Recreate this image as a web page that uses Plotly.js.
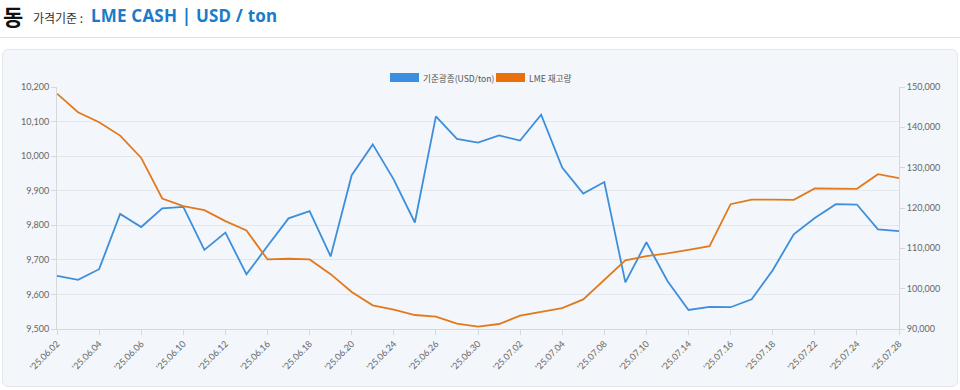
<!DOCTYPE html>
<html>
<head>
<meta charset="utf-8">
<script src="https://cdn.plot.ly/plotly-3.0.1.min.js"></script>
<style>
  html, body { margin: 0; padding: 0; background: #ffffff; width: 960px; height: 390px; overflow: hidden; }
  #hdr { position: absolute; left: 3px; top: 0px; height: 36px; white-space: nowrap; font-family: "Noto Sans CJK KR", "Noto Sans", sans-serif; }
  #hdr .big { position: absolute; left: 0px; top: -1px; font-size: 22px; font-weight: 700; color: #111; }
  #hdr .lab { position: absolute; left: 30px; top: 9px; font-size: 12px; color: #333; }
  #hdr .val { position: absolute; left: 88px; top: 4px; font-size: 17px; font-weight: 700; color: #1a7cc9; font-family: "Noto Sans", "Noto Sans CJK KR", sans-serif; letter-spacing: 0.2px; }
  #rule { position: absolute; left: 0; top: 37px; width: 960px; height: 1px; background: #e2e2e2; }
  #panel { position: absolute; left: 2px; top: 49px; width: 954px; height: 336px; background: #f3f6fa; border: 1px solid #e3e7ec; border-radius: 6px; }
  #chart { position: absolute; left: 0; top: 0; width: 960px; height: 390px; }
  .lg { position: absolute; top: 70px; height: 10px; font-family: "Noto Sans CJK KR", "Noto Sans", sans-serif; font-size: 8.6px; color: #555; white-space: nowrap; }
  .lg .box { display: inline-block; width: 29px; height: 9px; vertical-align: middle; margin-right: 4px; }
  .lg span.t { vertical-align: middle; }
</style>
</head>
<body>
<div id="hdr"><span class="big">동</span><span class="lab">가격기준 :</span><span class="val">LME CASH | USD / ton</span></div>
<div id="rule"></div>
<div id="panel"></div>
<div id="chart"></div>
<div class="lg" id="lg1" style="left:390px;"><span class="box" style="background:#3b8fe0"></span><span class="t">기준광종(USD/ton)</span></div>
<div class="lg" id="lg2" style="left:496px;"><span class="box" style="background:#e8710a"></span><span class="t">LME 재고량</span></div>
<script>
const dates = ["'25.06.02","'25.06.03","'25.06.04","'25.06.05","'25.06.06","'25.06.09","'25.06.10","'25.06.11","'25.06.12","'25.06.13",
  "'25.06.16","'25.06.17","'25.06.18","'25.06.19","'25.06.20","'25.06.23","'25.06.24","'25.06.25","'25.06.26","'25.06.27",
  "'25.06.30","'25.07.01","'25.07.02","'25.07.03","'25.07.04","'25.07.07","'25.07.08","'25.07.09","'25.07.10","'25.07.11",
  "'25.07.14","'25.07.15","'25.07.16","'25.07.17","'25.07.18","'25.07.21","'25.07.22","'25.07.23","'25.07.24","'25.07.25","'25.07.28"];

const cashPrice = [9654,9642,9673,9833,9795,9849,9853,9729,9779,9658,
  9740,9820,9841,9710,9945,10034,9932,9808,10115,10050,
  10039,10060,10045,10120,9967,9892,9925,9635,9751,9639,
  9555,9564,9563,9586,9670,9774,9821,9861,9860,9788,9783];

const lmeStock = [148350,143730,141250,137950,132420,122350,120450,119460,116740,114430,
  107250,107420,107250,103600,99160,95860,94790,93470,93050,91320,
  90590,91240,93300,94290,95200,97350,102300,107000,108070,108730,
  109640,110540,120940,122100,122100,122020,124830,124830,124750,128380,127390];

const tickDates = dates.filter((d, i) => i % 2 === 0);

const traces = [
  { x: dates, y: cashPrice, type: 'scatter', mode: 'lines', name: '기준광종(USD/ton)',
    line: { color: '#3d8fdc', width: 1.8 }, yaxis: 'y', showlegend: false },
  { x: dates, y: lmeStock, type: 'scatter', mode: 'lines', name: 'LME 재고량',
    line: { color: '#e27a1c', width: 1.8 }, yaxis: 'y2', showlegend: false }
];

const tickFont = { family: 'Lato, "Noto Sans", sans-serif', size: 9, color: '#666' };

const layout = {
  width: 960, height: 390,
  margin: { l: 57, r: 61, t: 87, b: 61 },
  paper_bgcolor: 'rgba(0,0,0,0)',
  plot_bgcolor: 'rgba(0,0,0,0)',
  showlegend: false,
  xaxis: {
    type: 'category', range: [0, dates.length - 1],
    tickmode: 'array', tickvals: tickDates, ticktext: tickDates,
    tickangle: -45, tickfont: tickFont,
    showgrid: false, zeroline: false,
    showline: true, linecolor: '#d5d9de', linewidth: 1,
    ticks: 'outside', ticklen: 5, tickcolor: '#d5d9de'
  },
  yaxis: {
    range: [9500, 10200], dtick: 100, tickformat: ',d', tickfont: tickFont,
    showgrid: true, gridcolor: '#e3e6ea', gridwidth: 1, zeroline: false,
    showline: true, linecolor: '#d5d9de', linewidth: 1,
    ticks: 'outside', ticklen: 5, tickcolor: '#d5d9de'
  },
  yaxis2: {
    range: [90000, 150000], dtick: 10000, tickformat: ',d', tickfont: tickFont,
    overlaying: 'y', side: 'right', showgrid: false, zeroline: false,
    showline: true, linecolor: '#d5d9de', linewidth: 1,
    ticks: 'outside', ticklen: 5, tickcolor: '#d5d9de'
  },
  hovermode: false
};

Plotly.newPlot('chart', traces, layout, { displayModeBar: false, staticPlot: true });
</script>
</body>
</html>
